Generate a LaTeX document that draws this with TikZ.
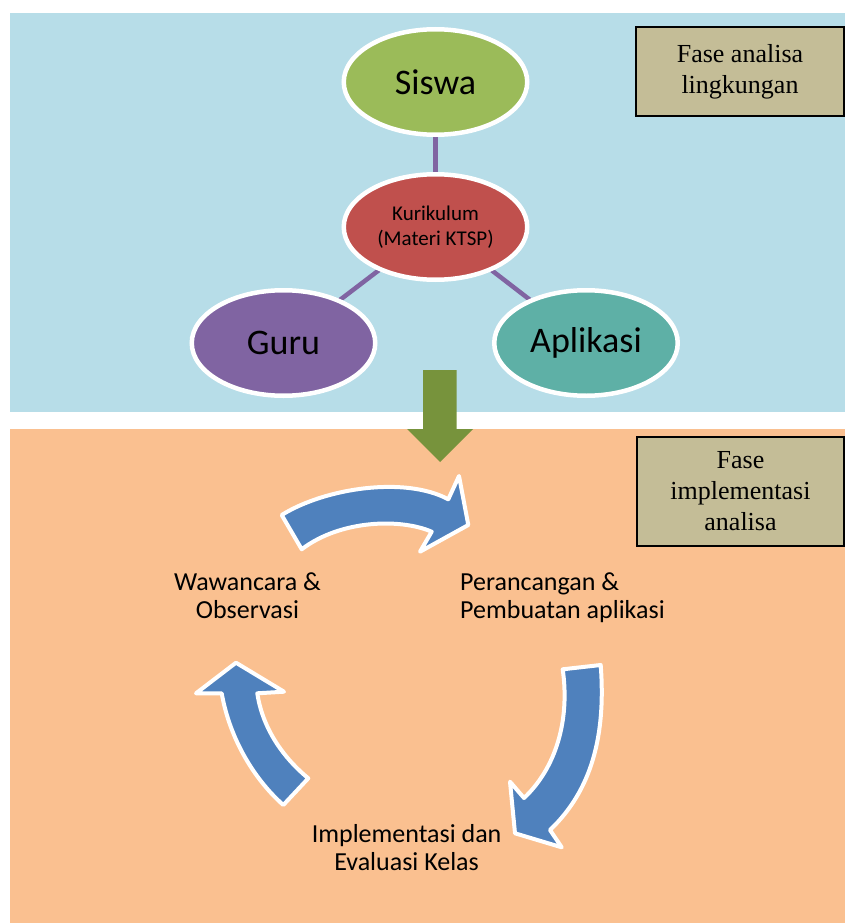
\documentclass[tikz,border=0pt]{standalone}
\usepackage{fontspec}
\setmainfont{Carlito}
\newfontfamily\timesf{Liberation Serif}
\usetikzlibrary{shapes.geometric}
\pgfdeclarelayer{back}
\pgfdeclarelayer{mid}
\pgfsetlayers{back,mid,main}
\definecolor{panelblue}{HTML}{B7DDE8}
\definecolor{panelorange}{HTML}{FAC090}
\definecolor{phasebox}{HTML}{C4BD97}
\definecolor{siswac}{HTML}{9BBB59}
\definecolor{kurc}{HTML}{C0504D}
\definecolor{guruc}{HTML}{8064A2}
\definecolor{aplc}{HTML}{5EB0A6}
\definecolor{greenarr}{HTML}{77933C}
\definecolor{cyclec}{HTML}{4F81BD}
\tikzset{
  bubble/.style={ellipse, draw=white, line width=4.5pt, minimum width=183.5pt, minimum height=105.5pt, inner sep=0pt, align=center, text=black},
  bigtxt/.style={font=\fontsize{36}{43}\selectfont},
  link/.style={draw=guruc, line width=4.5pt},
  phase/.style={draw=black, line width=2pt, fill=phasebox, font=\timesf\fontsize{26}{31}\selectfont, align=center, inner sep=0pt},
  cycarrow/.style={fill=cyclec, draw=white, line width=4pt, line join=round},
  steplabel/.style={font=\fontsize{26}{28}\selectfont, inner sep=0pt, anchor=base},
}
\begin{document}
\begin{tikzpicture}[x=1pt,y=-1pt]
\useasboundingbox (0,0) rectangle (845,923);
\begin{pgfonlayer}{back}
\fill[panelblue] (10,13) rectangle (845,411.5);
\fill[panelorange] (10,429) rectangle (845,923);
\end{pgfonlayer}
% ellipses
\node[bubble, fill=siswac, bigtxt] (siswa) at (435.5,82) {Siswa};
\node[bubble, fill=kurc, font=\fontsize{21}{25}\selectfont] (kur) at (435.5,227) {Kurikulum\\(Materi KTSP)};
\node[bubble, fill=guruc, bigtxt] (guru) at (283.5,343) {Guru};
\node[bubble, fill=aplc, bigtxt] (apl) at (586,343) {Aplikasi};
\begin{pgfonlayer}{mid}
\draw[link] (siswa.center) -- (kur.center);
\draw[link] (kur.center) -- (guru.center);
\draw[link] (kur.center) -- (apl.center);
\end{pgfonlayer}
% phase boxes
\node[phase, minimum width=208pt, minimum height=89pt] (fase1) at (740,72) {Fase analisa\\lingkungan};
\node[phase, minimum width=207pt, minimum height=109pt] (fase2) at (740.5,491) {Fase\\implementasi\\analisa};
% green arrow
\fill[greenarr] (423,370) -- (456.6,370) -- (456.6,429) -- (473,429) -- (440,462) -- (407,429) -- (423,429) -- cycle;
% cycle arrows
\draw[cycarrow] (281.7,515) .. controls (325,488) and (405,476) .. (448.3,499.3) -- (459,476) -- (468.3,525) -- (420,551.7) -- (431.7,531.7) .. controls (400,518) and (340,520) .. (301.7,549.3) -- cycle;
\draw[cycarrow] (562.7,669.3) -- (600.7,665) .. controls (606,735) and (592,790) .. (550,830) -- (561.7,847.3) -- (515,833.3) -- (510,781.7) -- (524,798) .. controls (556,768) and (570,720) .. (562.7,669.3) -- cycle;
\draw[cycarrow] (236,662.7) -- (284,691.7) -- (257.3,693.3) .. controls (262,725) and (280,755) .. (308.3,778.3) -- (283.3,805) .. controls (255,780) and (230,740) .. (221.7,693.3) -- (196,693.3) -- cycle;
% labels (base anchor = baseline of last line)
\node[steplabel, align=center] (wawan) at (247.5,618.3) {Wawancara \&\\Observasi};
\node[steplabel, align=left, anchor=base west] (peran) at (460,618.3) {Perancangan \&\\Pembuatan aplikasi};
\node[steplabel, align=center] (impl) at (406.6,870) {Implementasi dan\\Evaluasi Kelas};
\end{tikzpicture}
\end{document}
